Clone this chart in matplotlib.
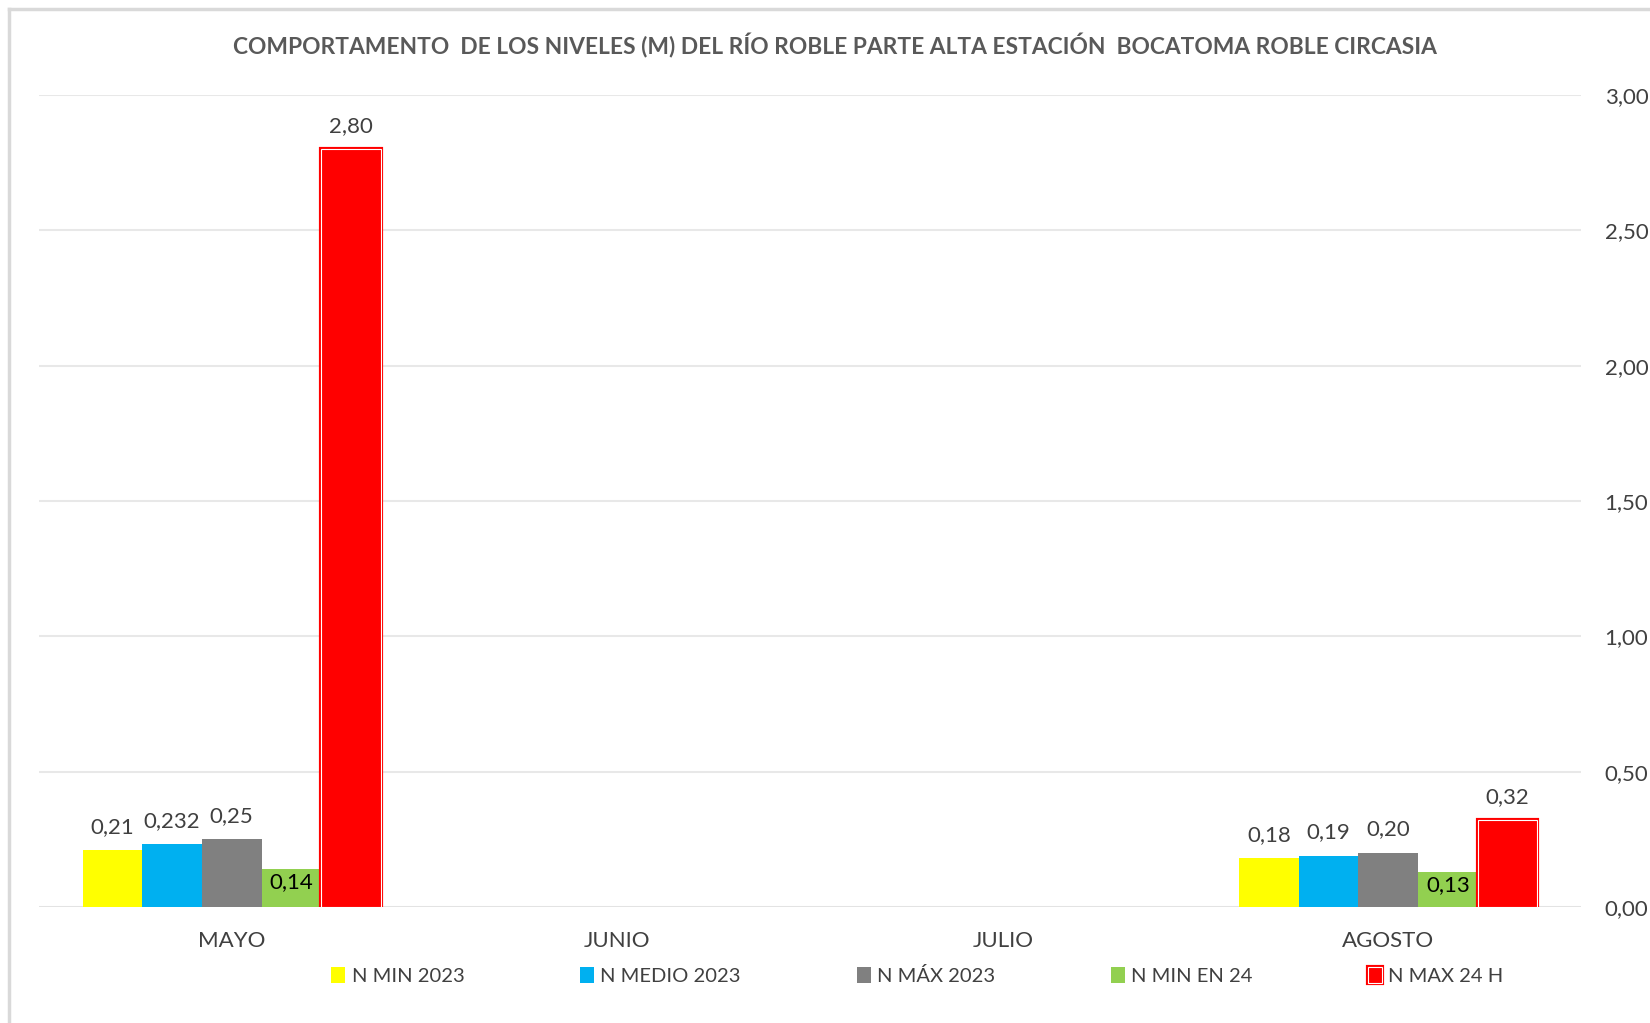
import numpy as np
import matplotlib
matplotlib.use("Agg")
import matplotlib.pyplot as plt
import matplotlib.patheffects as pe

plt.rcParams['font.family'] = ['Lato', 'DejaVu Sans']

months = ["MAYO", "JUNIO", "JULIO", "AGOSTO"]
series_names = ["N MIN 2023", "N MEDIO 2023", "N MÁX 2023", "N MIN EN 24", "N MAX 24 H"]
n_min_2023 = [0.21, np.nan, np.nan, 0.18]
n_medio_2023 = [0.232, np.nan, np.nan, 0.19]
n_max_2023 = [0.25, np.nan, np.nan, 0.20]
n_min_24 = [0.14, np.nan, np.nan, 0.13]
n_max_24h = [2.80, np.nan, np.nan, 0.32]
colors = ["#FFFF00", "#00B0F0", "#808080", "#92D050", "#FF0000"]
yticks = [0, 0.5, 1.0, 1.5, 2.0, 2.5, 3.0]

all_series = [n_min_2023, n_medio_2023, n_max_2023, n_min_24, n_max_24h]


def fmt(v):
    s = f"{v:.3f}".rstrip('0')
    if len(s.split('.')[1]) < 2:
        s = f"{v:.2f}"
    return s.replace('.', ',')


fig = plt.figure(figsize=(16.5, 10.23), dpi=100)
ax = fig.add_axes([0.0236, 0.1134, 0.9346, 0.7937])

x = np.arange(len(months))
group = 0.774
w = group / len(all_series)
text_col = "#404040"

for i, (vals, name, c) in enumerate(zip(all_series, series_names, colors)):
    pos = x - group / 2 + w * (i + 0.5)
    if i == 4:
        bars = ax.bar(pos, vals, w, color=c, edgecolor="white", linewidth=0.8, label=name,
                      zorder=3)
        for b in bars:
            b.set_path_effects([pe.Stroke(linewidth=3, foreground="#FF0000"), pe.Normal()])
    else:
        bars = ax.bar(pos, vals, w, color=c, linewidth=0, label=name, zorder=3)
    for p, v in zip(pos, vals):
        if np.isnan(v):
            continue
        if i == 3:
            ax.text(p, v - 0.012, fmt(v), ha='center', va='top', fontsize=16,
                    color="black", zorder=4)
        else:
            ax.text(p, v + 0.05, fmt(v), ha='center', va='bottom', fontsize=16,
                    color=text_col, zorder=4)

ax.set_xlim(-0.5, len(months) - 0.5)
ax.set_ylim(0, 3)
ax.set_yticks(yticks)
ax.set_yticklabels([f"{t:.2f}".replace('.', ',') for t in yticks])
ax.yaxis.tick_right()
ax.set_xticks(x)
ax.set_xticklabels(months)
ax.tick_params(axis='both', length=0, labelsize=16, colors=text_col)
ax.tick_params(axis='y', pad=17)
ax.tick_params(axis='x', pad=17)
ax.grid(axis='y', color="#E8E8E8", linewidth=1.5, zorder=0)
for s in ax.spines.values():
    s.set_visible(False)
ax.axhline(0, color="#E3E3E3", linewidth=2, zorder=2)

fig.text(0.506, 0.955, "COMPORTAMENTO  DE LOS NIVELES (M) DEL RÍO ROBLE PARTE ALTA ESTACIÓN  BOCATOMA ROBLE CIRCASIA",
         ha='center', va='center', fontsize=16.4, fontweight='bold', color="#595959")

leg = fig.legend(loc='center', bbox_to_anchor=(0.556, 0.046), ncol=5, frameon=False,
                 fontsize=14.5, handlelength=0.7, handleheight=0.8, handletextpad=0.3,
                 columnspacing=5.75)
for t in leg.get_texts():
    t.set_color(text_col)

# chart area border
fig.add_artist(plt.Line2D([0.0055, 0.0055], [0, 0.991], color="#D9D9D9", linewidth=2.5))
fig.add_artist(plt.Line2D([0.0055, 1], [0.991, 0.991], color="#D9D9D9", linewidth=2.5))

fig.savefig("out.png", dpi=100)
